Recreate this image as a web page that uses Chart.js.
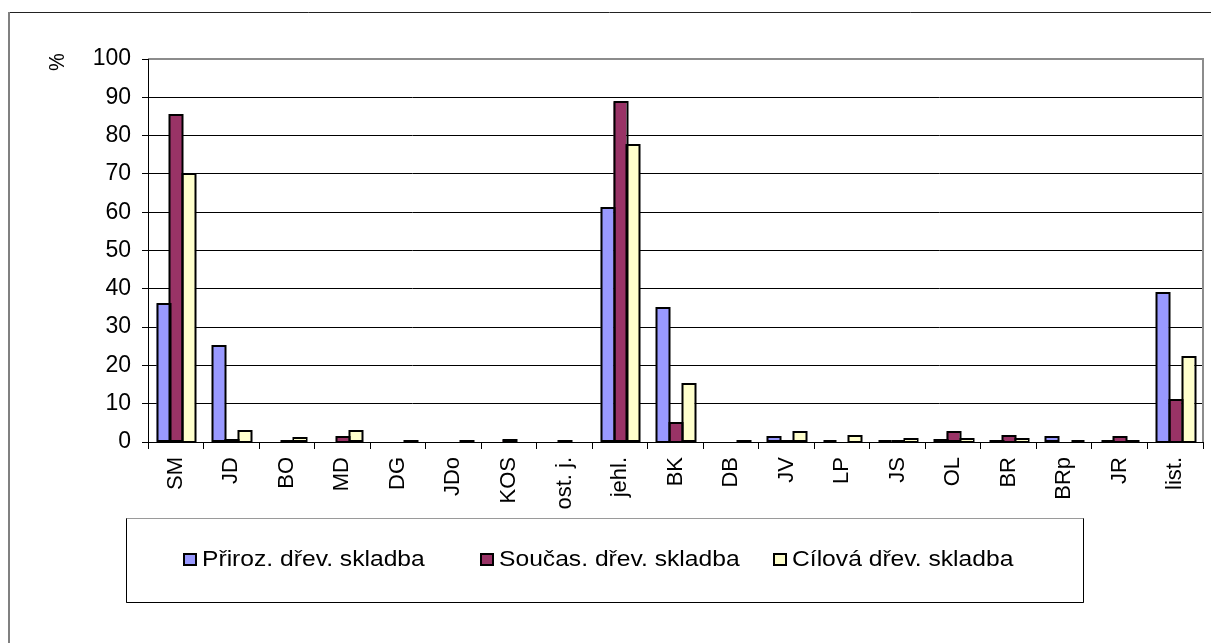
<!DOCTYPE html>
<html>
<head>
<meta charset="utf-8">
<style>
  html, body { margin: 0; padding: 0; background: #fff; }
  #wrap { width: 1211px; height: 643px; position: relative; }
</style>
<script src="https://cdn.jsdelivr.net/npm/chart.js@4/dist/chart.umd.min.js"></script>
</head>
<body>
<div id="wrap"><canvas id="c" width="1211" height="643"></canvas></div>
<script>
// Dřeviny (tree species) and their share in the stand, %
const categories = ['SM', 'JD', 'BO', 'MD', 'DG', 'JDo', 'KOS', 'ost. j.', 'jehl.', 'BK', 'DB', 'JV', 'LP', 'JS', 'OL', 'BR', 'BRp', 'JR', 'list.'];
const prirozena = [36, 25, 0, 0, 0, 0, 0, 0, 61, 35, 0, 1.2, 0.2, 0.2, 0.5, 0.3, 1.2, 0.2, 39];
const soucasna  = [85.3, 0.5, 0.2, 1.4, 0, 0, 0.5, 0.3, 88.7, 5, 0, 0.3, 0, 0.2, 2.5, 1.6, 0, 1.4, 11];
const cilova    = [70, 3, 1, 2.8, 0.3, 0.3, 0, 0, 77.5, 15.1, 0.3, 2.5, 1.6, 0.8, 0.8, 0.8, 0.2, 0.2, 22.3];
const seriesNames = ['Přiroz. dřev. skladba', 'Součas. dřev. skladba', 'Cílová dřev. skladba'];
const yTicks = [0, 10, 20, 30, 40, 50, 60, 70, 80, 90, 100];
const yTitle = '%';

const FONT = "'Liberation Sans', Arial, sans-serif";
const colors = ['#9999FF', '#993366', '#FFFFCC'];
const TEXT_STRETCH = 1.12;

// Frame, plot border, axis title, bar outlines and legend box
const decor = {
  id: 'decor',
  beforeDraw(chart) {
    const ctx = chart.ctx;
    ctx.save();
    ctx.fillStyle = '#fff';
    ctx.fillRect(0, 0, chart.width, chart.height);
    // outer frame
    ctx.strokeStyle = '#222';
    ctx.lineWidth = 1;
    ctx.beginPath(); ctx.moveTo(8, 12.5); ctx.lineTo(chart.width, 12.5); ctx.stroke();
    ctx.strokeStyle = '#808080';
    ctx.lineWidth = 2;
    ctx.beginPath(); ctx.moveTo(9, 12); ctx.lineTo(9, chart.height); ctx.stroke();
    ctx.restore();
  },
  afterDatasetsDraw(chart) {
    const ctx = chart.ctx;
    const a = chart.chartArea;
    ctx.save();
    // bar outlines
    ctx.strokeStyle = '#000';
    ctx.lineWidth = 2;
    chart.data.datasets.forEach((ds, i) => {
      const meta = chart.getDatasetMeta(i);
      meta.data.forEach((bar, j) => {
        if (!ds.data[j]) return;
        const p = bar.getProps(['x', 'y', 'base', 'width'], true);
        ctx.strokeRect(Math.round(p.x - p.width / 2) + 0.5, Math.round(p.y), Math.round(p.width), Math.round(p.base - p.y));
      });
    });
    // plot area border (top and right)
    ctx.strokeStyle = '#8c8c8c';
    ctx.lineWidth = 2;
    ctx.beginPath();
    ctx.moveTo(a.left, a.top);
    ctx.lineTo(a.right, a.top);
    ctx.lineTo(a.right, a.bottom);
    ctx.stroke();
    // axis lines
    ctx.strokeStyle = '#000';
    ctx.lineWidth = 1;
    ctx.beginPath();
    ctx.moveTo(a.left + 0.5, a.top);
    ctx.lineTo(a.left + 0.5, a.bottom);
    ctx.moveTo(a.left, a.bottom + 0.5);
    ctx.lineTo(a.right, a.bottom + 0.5);
    ctx.stroke();
    ctx.restore();
  },
  afterDraw(chart) {
    const ctx = chart.ctx;
    ctx.save();
    // y axis title
    ctx.fillStyle = '#000';
    ctx.font = '20px ' + FONT;
    ctx.translate(58, 62);
    ctx.rotate(-Math.PI / 2);
    ctx.scale(1, TEXT_STRETCH);
    ctx.textAlign = 'center';
    ctx.textBaseline = 'middle';
    ctx.fillText(yTitle, 0, 0);
    ctx.restore();

    // legend box
    ctx.save();
    const box = { x: 126, y: 518, w: 957, h: 84 };
    ctx.fillStyle = '#fff';
    ctx.fillRect(box.x, box.y, box.w, box.h);
    ctx.strokeStyle = '#9a9a9a';
    ctx.lineWidth = 1;
    ctx.strokeRect(box.x + 0.5, box.y + 0.5, box.w, box.h);
    ctx.strokeStyle = '#000';
    ctx.beginPath();
    ctx.moveTo(box.x + 0.5, box.y + 0.5);
    ctx.lineTo(box.x + 0.5, box.y + box.h + 0.5);
    ctx.lineTo(box.x + box.w + 0.5, box.y + box.h + 0.5);
    ctx.lineTo(box.x + box.w + 0.5, box.y + 0.5);
    ctx.stroke();

    const markerX = [184, 481, 774];
    const cy = 560;
    ctx.font = '22px ' + FONT;
    ctx.textBaseline = 'middle';
    ctx.textAlign = 'left';
    chart.data.datasets.forEach((ds, i) => {
      const mx = markerX[i];
      ctx.fillStyle = ds.backgroundColor;
      ctx.fillRect(mx, cy - 6, 12, 11);
      ctx.strokeStyle = '#000';
      ctx.lineWidth = 2;
      ctx.strokeRect(mx, cy - 6, 12, 11);
      ctx.save();
      ctx.translate(mx + 18, cy);
      ctx.scale(TEXT_STRETCH, 1);
      ctx.fillStyle = '#000';
      ctx.fillText(ds.label, 0, 0);
      ctx.restore();
    });
    ctx.restore();
  }
};

new Chart(document.getElementById('c'), {
  type: 'bar',
  data: {
    labels: categories,
    datasets: [
      { label: seriesNames[0], data: prirozena, backgroundColor: colors[0] },
      { label: seriesNames[1], data: soucasna,  backgroundColor: colors[1] },
      { label: seriesNames[2], data: cilova,    backgroundColor: colors[2] }
    ]
  },
  options: {
    responsive: false,
    animation: false,
    devicePixelRatio: 1,
    layout: { padding: { top: 59, left: 0, right: 8, bottom: 0 } },
    datasets: {
      bar: {
        borderWidth: 0,
        categoryPercentage: 0.69,
        barPercentage: 1.0,
        inflateAmount: 0
      }
    },
    plugins: {
      legend: { display: false },
      tooltip: { enabled: false }
    },
    scales: {
      x: {
        offset: true,
        grid: {
          offset: true,
          drawOnChartArea: false,
          drawTicks: true,
          tickLength: 7,
          tickColor: '#000',
          lineWidth: 1
        },
        border: { display: true, color: '#000', width: 1 },
        ticks: {
          autoSkip: false,
          minRotation: 90,
          maxRotation: 90,
          padding: 8,
          color: '#000',
          font: { family: FONT, size: 22 }
        },
        afterFit(scale) {
          scale.height = 201;
          scale.paddingLeft = 0;
          scale.paddingRight = 0;
        }
      },
      y: {
        min: 0,
        max: 100,
        afterBuildTicks(scale) {
          scale.ticks = yTicks.map(v => ({ value: v }));
        },
        grid: {
          color: (c) => (c.tick && c.tick.value === 100) ? 'rgba(0,0,0,0)' : '#000',
          lineWidth: 1,
          drawTicks: true,
          tickLength: 6,
          tickColor: '#000'
        },
        border: { display: true, color: '#000', width: 1 },
        ticks: {
          padding: 11,
          color: '#000',
          font: { family: FONT, size: 23 }
        },
        afterFit(scale) {
          scale.width = 148;
        }
      }
    }
  },
  plugins: [decor]
});
</script>
</body>
</html>
